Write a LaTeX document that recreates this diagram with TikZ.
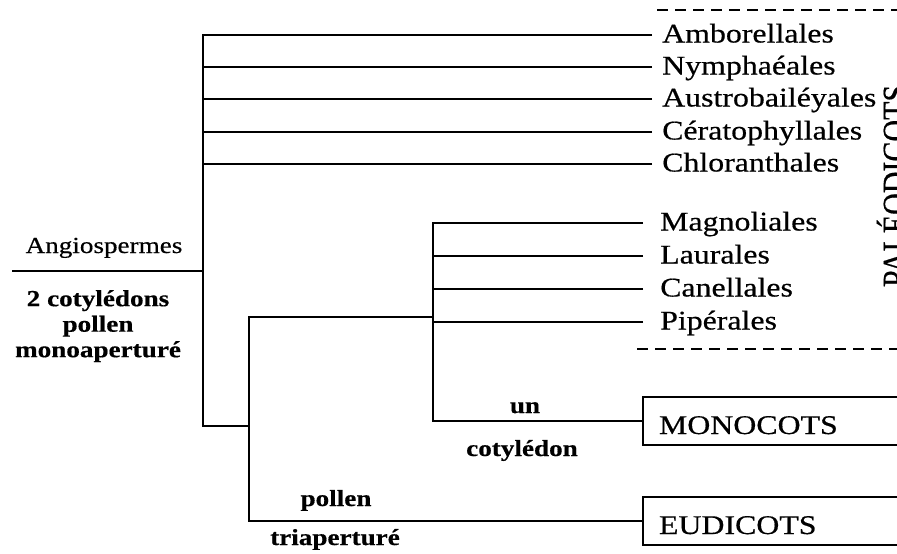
\documentclass[tikz,border=0pt]{standalone}
\usepackage{fontspec}
\usepackage{graphicx}
\setmainfont{Liberation Serif}[FakeStretch=1.18, FakeBold=0.5]
\newfontfamily\upright{Liberation Serif}[FakeBold=0.5]
\begin{document}
\begin{tikzpicture}[x=1pt,y=-1pt,
  branch/.style={line width=2pt, line join=miter},
  sep/.style={line width=2pt, dash pattern=on 11pt off 7pt},
  taxon/.style={anchor=west, inner xsep=10pt, inner ysep=0pt,
    text height=20pt, text depth=5pt, font=\fontsize{27}{32}\selectfont},
  taxonb/.style={taxon, inner xsep=17pt},
  trait/.style={font=\bfseries\fontsize{23}{25.5}\selectfont, inner sep=0pt, anchor=base},
  group/.style={draw, line width=2pt, anchor=west, minimum height=48pt,
    text width=240pt, align=left, inner xsep=16pt, inner ysep=0pt,
    font=\fontsize{27}{32}\selectfont, text height=28pt, text depth=2pt}
]
\useasboundingbox (0,0) rectangle (897,554);
\clip (0,0) rectangle (897,554);

% terminal taxa
\node[taxon] (amb) at (652,35) {Amborellales};
\node[taxon] (nym) at (652,67) {Nymphaéales};
\node[taxon] (aus) at (652,99) {Austrobailéyales};
\node[taxon] (cer) at (652,132) {Cératophyllales};
\node[taxon] (chl) at (652,164) {Chloranthales};
\node[taxonb] (mag) at (643,223) {Magnoliales};
\node[taxonb] (lau) at (643,256) {Laurales};
\node[taxonb] (can) at (643,289) {Canellales};
\node[taxonb] (pip) at (643,322) {Pipérales};
\node[group] (mono) at (642,421) {MONOCOTS};
\node[group] (eudi) at (642,521) {EUDICOTS};

% branching points
\coordinate (root) at (12,271);
\coordinate (n1) at (203,271);
\coordinate (n1b) at (203,426);
\coordinate (n2) at (249,426);
\coordinate (n2t) at (249,317);
\coordinate (n3) at (433,317);
\coordinate (n3b) at (433,421);

% tree
\draw[branch] (root) -- (n1);
\draw[branch] (amb.west) -| (n1b) -- (n2);
\foreach \t in {nym,aus,cer,chl} \draw[branch] (\t.west) -- (n1 |- \t.west);
\draw[branch] (n3) -- (n2t) |- (eudi.west);
\draw[branch] (mag.west) -| (n3b) -- (mono.west);
\foreach \t in {lau,can,pip} \draw[branch] (\t.west) -- (n3 |- \t.west);

% character labels
\node[font=\fontsize{23}{25}\selectfont, inner sep=0pt, anchor=base] (angio) at (104,253) {Angiospermes};
\node[trait, align=center, anchor=north] (syn) at (98,290) {2 cotylédons\\pollen\\monoaperturé};
\node[trait] (un) at (525,413) {un};
\node[trait] (coty) at (522,456) {cotylédon};
\node[trait] (pol) at (336,506) {pollen};
\node[trait] (tri) at (335,545) {triaperturé};

% paleodicots bracket
\coordinate (dt1) at (657,10);
\coordinate (dt2) at (910,10);
\coordinate (db1) at (637,349);
\coordinate (db2) at (910,349);
\draw[sep] (dt1) -- (dt2);
\draw[sep] (db1) -- (db2);
\node[anchor=base, rotate=90, inner sep=0pt, font=\upright\fontsize{30}{30}\selectfont]
  (paleo) at (907,186) {\scalebox{1}[1.18]{PALÉODICOTS}};
\end{tikzpicture}
\end{document}
